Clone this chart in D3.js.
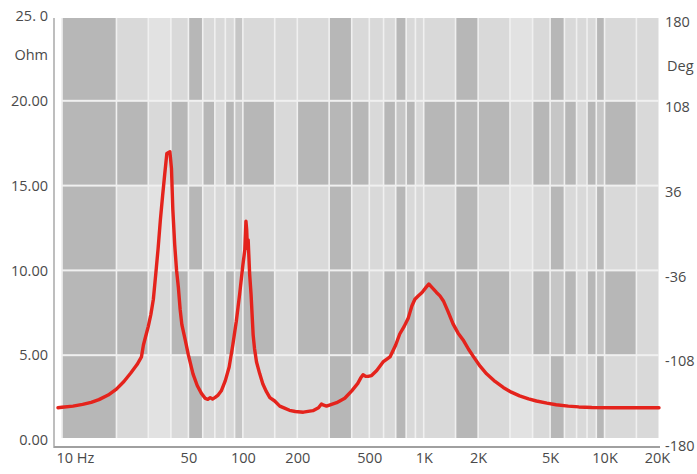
<!DOCTYPE html>
<html><head><meta charset="utf-8">
<script src="https://cdn.jsdelivr.net/npm/d3@7"></script>
<style>
html,body{margin:0;padding:0;background:#fff;}
svg{display:block;}
text{font-family:"Open Sans","Noto Sans",sans-serif;fill:#4a4a4a;}
</style></head>
<body>
<svg id="c" width="697" height="474"></svg>
<script>
// ---- data ----
const freqs = [9.5,10,11.5,13,14.5,16,18,20,22,24,26,27.5,28.2,29,30,31,32,33,34,35,36,37,38,39.5,40.3,41,42,43,44,45,46,48,50,53,56,59,62,64,66,68,70,73,76,80,84,88,92,96,100,102.5,104,105,106,107,109,111,114,116,119,124,129,135,141,150,160,170,181,195,216,244,262,272,280,290,301,330,366,400,432,448,462,478,492,515,550,596,651,700,737,780,822,860,894,935,979,1030,1067,1110,1177,1230,1285,1360,1453,1550,1664,1770,1888,2050,2226,2480,2753,3050,3390,3800,4200,4800,5400,6300,7200,8500,11000,15000,20000];
const ohms = [1.9,1.93,2.0,2.1,2.22,2.38,2.65,3.0,3.45,3.95,4.45,4.9,5.6,6.1,6.7,7.4,8.3,9.8,11.3,13.0,14.4,15.7,16.9,17.0,16.0,13.6,11.5,10.0,9.0,7.7,6.8,5.9,5.0,3.9,3.2,2.75,2.45,2.4,2.5,2.42,2.5,2.65,2.9,3.5,4.3,5.6,7.0,8.6,10.3,11.2,12.9,12.4,11.3,11.8,9.8,8.6,6.2,5.4,4.6,3.9,3.3,2.85,2.5,2.3,2.0,1.88,1.75,1.68,1.64,1.73,1.9,2.12,2.05,2.0,2.06,2.2,2.46,2.9,3.34,3.65,3.85,3.75,3.75,3.8,4.1,4.6,4.9,5.6,6.25,6.7,7.2,7.9,8.3,8.5,8.7,9.0,9.2,9.0,8.7,8.5,8.2,7.6,6.85,6.3,5.85,5.35,4.9,4.35,3.9,3.45,3.1,2.82,2.6,2.42,2.3,2.17,2.08,2.0,1.95,1.92,1.9,1.9,1.9];

const xTickValues = [10,50,100,200,500,1000,2000,5000,10000,20000];
const xTickLabels = ["10 Hz","50","100","200","500","1K","2K","5K","10K","20K"];
const yTickValues = [0,5,10,15,20,25];
const yTickLabels = ["0.00","5.00","10.00","15.00","20.00","25. 0"];
const degTickValues = [-180,-108,-36,36,108,180];
const degTickLabels = ["-180","-108","-36","36","108","180"];

// background pattern: column edges (Hz), row edges (Ohm), shade codes per column
const bgFreqEdges = [10,20,30,40,50,60,70,80,90,100,150,200,300,400,500,600,700,800,900,1000,1500,2000,3000,4000,5000,6000,7000,8000,9000,10000,15000,20000];
const bgRowEdges = [0,5,10,15,20,25];
const patternA = "DLXLDLLLMLLLDLLLDLLLDLXLDLLLDLL"; // rows 0-5,10-15,20-25
const patternB = "DDLDLDLDMDLDDDLDMDLDDDLDMDLDMDL"; // rows 5-10,15-20
const rowPatterns = [patternA, patternB, patternA, patternB, patternA];

// ---- drawing ----
const svg = d3.select("#c");
const x = d3.scaleLog().domain([10,20000]).range([62,659]);
const y = d3.scaleLinear().domain([0,25]).range([440,16]);
const yR = d3.scaleLinear().domain([-180,180]).range([446,22]);
const shade = {D:"#b7b7b7", M:"#c6c6c6", L:"#d9d9d9", X:"#e2e2e2"};

svg.append("defs").append("clipPath").attr("id","plotclip")
  .append("rect").attr("x",61).attr("y",18).attr("width",598).attr("height",420);

const bg = svg.append("g").attr("clip-path","url(#plotclip)");
bg.append("rect").attr("x",61).attr("y",18).attr("width",598).attr("height",420).attr("fill","#f0f0f0");
const cells = [];
rowPatterns.forEach((p,r)=>{
  for(let c=0;c<bgFreqEdges.length-1;c++){
    cells.push({f0:bgFreqEdges[c],f1:bgFreqEdges[c+1],v0:bgRowEdges[r],v1:bgRowEdges[r+1],s:p[c]});
  }
});
bg.selectAll("rect.cell").data(cells).join("rect").attr("class","cell")
  .attr("x",d=>x(d.f0)+0.8)
  .attr("y",d=>y(d.v1)+1)
  .attr("width",d=>Math.max(0,x(d.f1)-x(d.f0)-1.6))
  .attr("height",d=>y(d.v0)-y(d.v1)-2)
  .attr("fill",d=>shade[d.s]);

// axis lines
svg.append("line").attr("x1",54).attr("x2",54).attr("y1",18).attr("y2",448)
  .attr("stroke","#a8a8a8").attr("stroke-width",1.5);
svg.append("line").attr("x1",54).attr("x2",660).attr("y1",447).attr("y2",447)
  .attr("stroke","#a0a0a0").attr("stroke-width",2);

// left axis
const gl = svg.append("g").attr("transform","translate(48,0)")
  .call(d3.axisLeft(y).tickValues(yTickValues).tickSize(0).tickPadding(0)
    .tickFormat((d,i)=>yTickLabels[i]));
gl.select(".domain").remove();
gl.selectAll("text").style("font-size","14.5px").style("fill","#4a4a4a")
  .style("font-family",'"Open Sans","Noto Sans",sans-serif');
svg.append("text").attr("x",48).attr("y",y(22.7)).attr("dy","0.32em")
  .attr("text-anchor","end").style("font-size","14.5px").text("Ohm");

// right axis
const gr = svg.append("g").attr("transform","translate(665,0)")
  .call(d3.axisRight(yR).tickValues(degTickValues).tickSize(0).tickPadding(0)
    .tickFormat((d,i)=>degTickLabels[i]));
gr.select(".domain").remove();
gr.selectAll("text").style("font-size","14.5px").style("fill","#4a4a4a")
  .style("font-family",'"Open Sans","Noto Sans",sans-serif');
svg.append("text").attr("x",667).attr("y",yR(142)).attr("dy","0.32em")
  .attr("text-anchor","start").style("font-size","14.5px").text("Deg");

// bottom axis
const gb = svg.append("g").attr("transform","translate(0,453)")
  .call(d3.axisBottom(x).tickValues(xTickValues).tickSize(0).tickPadding(0)
    .tickFormat((d,i)=>xTickLabels[i]));
gb.select(".domain").remove();
gb.selectAll("text").style("font-size","14.5px").style("fill","#4a4a4a")
  .style("font-family",'"Open Sans","Noto Sans",sans-serif');
gb.selectAll(".tick").filter(d=>d===10).select("text").attr("text-anchor","start").attr("x",-6);
gb.selectAll(".tick").filter(d=>d===20000).select("text").attr("x",-2);

// impedance curve
const pts = freqs.map((f,i)=>[f,ohms[i]]);
svg.append("path").datum(pts)
  .attr("fill","none").attr("stroke","#e4231c").attr("stroke-width",3.4)
  .attr("stroke-linejoin","round").attr("stroke-linecap","round")
  .attr("d",d3.line().x(d=>x(d[0])).y(d=>y(d[1])));
</script>
</body></html>
